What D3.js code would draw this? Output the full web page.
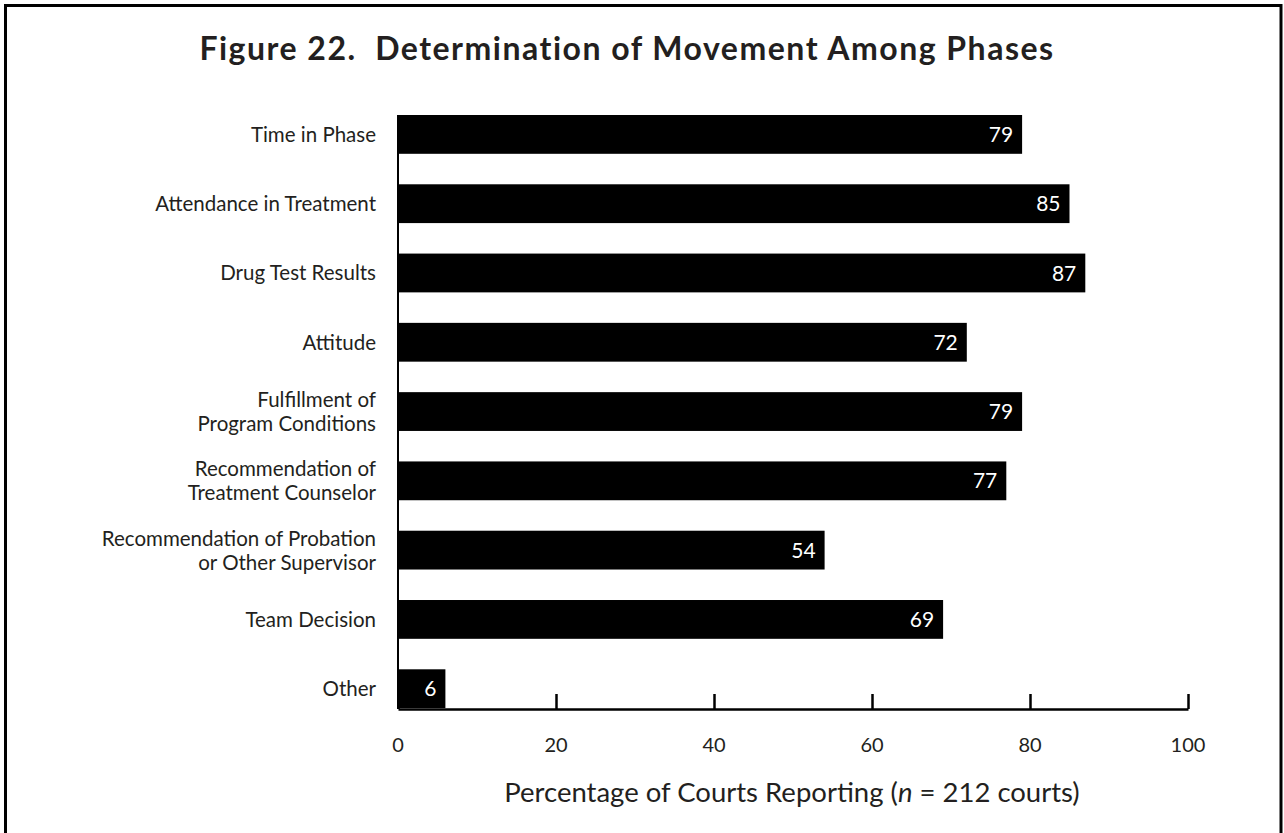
<!DOCTYPE html>
<html>
<head>
<meta charset="utf-8">
<script src="https://cdn.jsdelivr.net/npm/d3@7"></script>
<style>
  body { margin: 0; background: #fff; }
  svg { display: block; font-family: Lato, "Open Sans", sans-serif; }
</style>
</head>
<body>
<div id="chart"></div>
<script>
// values
let categories = [
  ["Time in Phase"],
  ["Attendance in Treatment"],
  ["Drug Test Results"],
  ["Attitude"],
  ["Fulfillment of", "Program Conditions"],
  ["Recommendation of", "Treatment Counselor"],
  ["Recommendation of Probation", "or Other Supervisor"],
  ["Team Decision"],
  ["Other"]
];
let percents = [79, 85, 87, 72, 79, 77, 54, 69, 6];
let tick_values = [0, 20, 40, 60, 80, 100];

let width = 1284;
let height = 833;
let ink = "#231f20";

let margin = { top: 115, left: 398, right: 96, bottom: 124 };

let svg = d3.select("#chart")
  .append("svg")
    .attr("width", width)
    .attr("height", height);

// frame
svg.append("rect")
  .attr("x", 5.5)
  .attr("y", 5.5)
  .attr("width", 1275.5)
  .attr("height", 840)
  .attr("fill", "none")
  .attr("stroke", "#000")
  .attr("stroke-width", 3);

svg.append("text")
  .attr("x", 627)
  .attr("y", 60)
  .attr("text-anchor", "middle")
  .attr("font-size", 32)
  .attr("font-weight", "bold")
  .attr("letter-spacing", 1.5)
  .attr("fill", ink)
  .attr("xml:space", "preserve")
  .text("Figure 22.  Determination of Movement Among Phases");

let x = d3.scaleLinear()
  .domain([0, 100])
  .range([margin.left, width - margin.right]);

let idx = d3.range(categories.length);
let y = d3.scaleBand()
  .domain(idx)
  .range([115, 115 + 65.9 * categories.length])
  .paddingInner(0.44)
  .paddingOuter(0);

let axis_y = 709;

// bars
svg.append("g")
  .selectAll("rect")
  .data(idx)
  .join("rect")
    .attr("x", x(0))
    .attr("y", d => y(d))
    .attr("width", d => x(percents[d]) - x(0))
    .attr("height", y.bandwidth())
    .attr("fill", "#000");

// value labels inside bars
svg.append("g")
  .selectAll("text")
  .data(idx)
  .join("text")
    .attr("x", d => x(percents[d]) - 9)
    .attr("y", d => y(d) + y.bandwidth() / 2)
    .attr("dy", "0.36em")
    .attr("text-anchor", "end")
    .attr("font-size", 21)
    .attr("fill", "#fff")
    .text(d => percents[d]);

// category labels
let cat = svg.append("g")
  .selectAll("text")
  .data(idx)
  .join("text")
    .attr("text-anchor", "end")
    .attr("font-size", 20.5)
    .attr("fill", ink);

cat.each(function(d) {
  let lines = categories[d];
  let mid = y(d) + y.bandwidth() / 2;
  let lh = 24;
  let first = mid - (lines.length - 1) * lh / 2;
  d3.select(this).selectAll("tspan")
    .data(lines)
    .join("tspan")
      .attr("x", 376)
      .attr("y", (l, i) => first + i * lh)
      .attr("dy", "0.36em")
      .text(l => l);
});

// y axis line
svg.append("line")
  .attr("x1", x(0)).attr("x2", x(0))
  .attr("y1", y(0)).attr("y2", axis_y)
  .attr("stroke", "#000")
  .attr("stroke-width", 2);

// x axis with ticks pointing up
let x_axis = d3.axisTop(x)
  .tickValues(tick_values)
  .tickSize(15)
  .tickSizeOuter(0)
  .tickFormat("");

let gx = svg.append("g")
  .attr("transform", "translate(0," + axis_y + ")")
  .call(x_axis);
gx.select(".domain").attr("stroke", "#000").attr("stroke-width", 2.5);
gx.selectAll(".tick line").attr("stroke", "#000").attr("stroke-width", 2.5);

svg.append("g")
  .selectAll("text")
  .data(tick_values)
  .join("text")
    .attr("x", d => x(d))
    .attr("y", 752)
    .attr("text-anchor", "middle")
    .attr("font-size", 20)
    .attr("fill", ink)
    .text(d => d);

let xt = svg.append("text")
  .attr("x", 792)
  .attr("y", 802)
  .attr("text-anchor", "middle")
  .attr("font-size", 27.5)
  .attr("fill", ink);
xt.append("tspan").text("Percentage of Courts Reporting (");
xt.append("tspan").attr("font-style", "italic").text("n");
xt.append("tspan").text(" = 212 courts)");
</script>
</body>
</html>
